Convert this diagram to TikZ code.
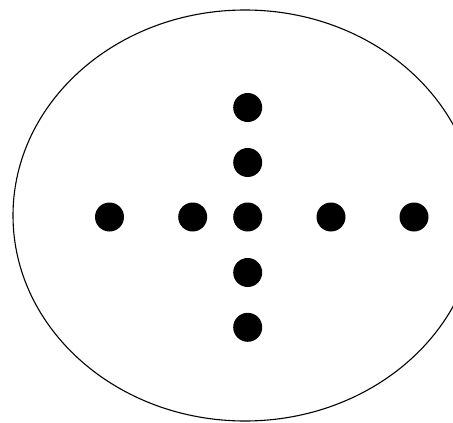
\documentclass[tikz,border=0pt]{standalone}
\usetikzlibrary{shapes.geometric}
\begin{document}
\begin{tikzpicture}[x=1pt,y=-1pt,
  dotnode/.style={circle,fill=black,inner sep=0pt,minimum size=29pt},
  outline/.style={draw=black,line width=1.1pt}]
\useasboundingbox (0,0) rectangle (453,423);
\begin{scope}
\clip (0,0) rectangle (453,423);
\node[outline,ellipse,minimum width=464pt,minimum height=411pt,inner sep=0pt] (oval) at (245,215.5) {};
\end{scope}
\node[dotnode] (h1) at (109.5,217) {};
\node[dotnode] (h2) at (192.7,217) {};
\node[dotnode] (c) at (247.7,217) {};
\node[dotnode] (h4) at (331,217) {};
\node[dotnode] (h5) at (414,217) {};
\node[dotnode] (v1) at (247.7,107.5) {};
\node[dotnode] (v2) at (247.7,162.5) {};
\node[dotnode] (v4) at (247.7,272.5) {};
\node[dotnode] (v5) at (247.7,327.3) {};
\end{tikzpicture}
\end{document}
